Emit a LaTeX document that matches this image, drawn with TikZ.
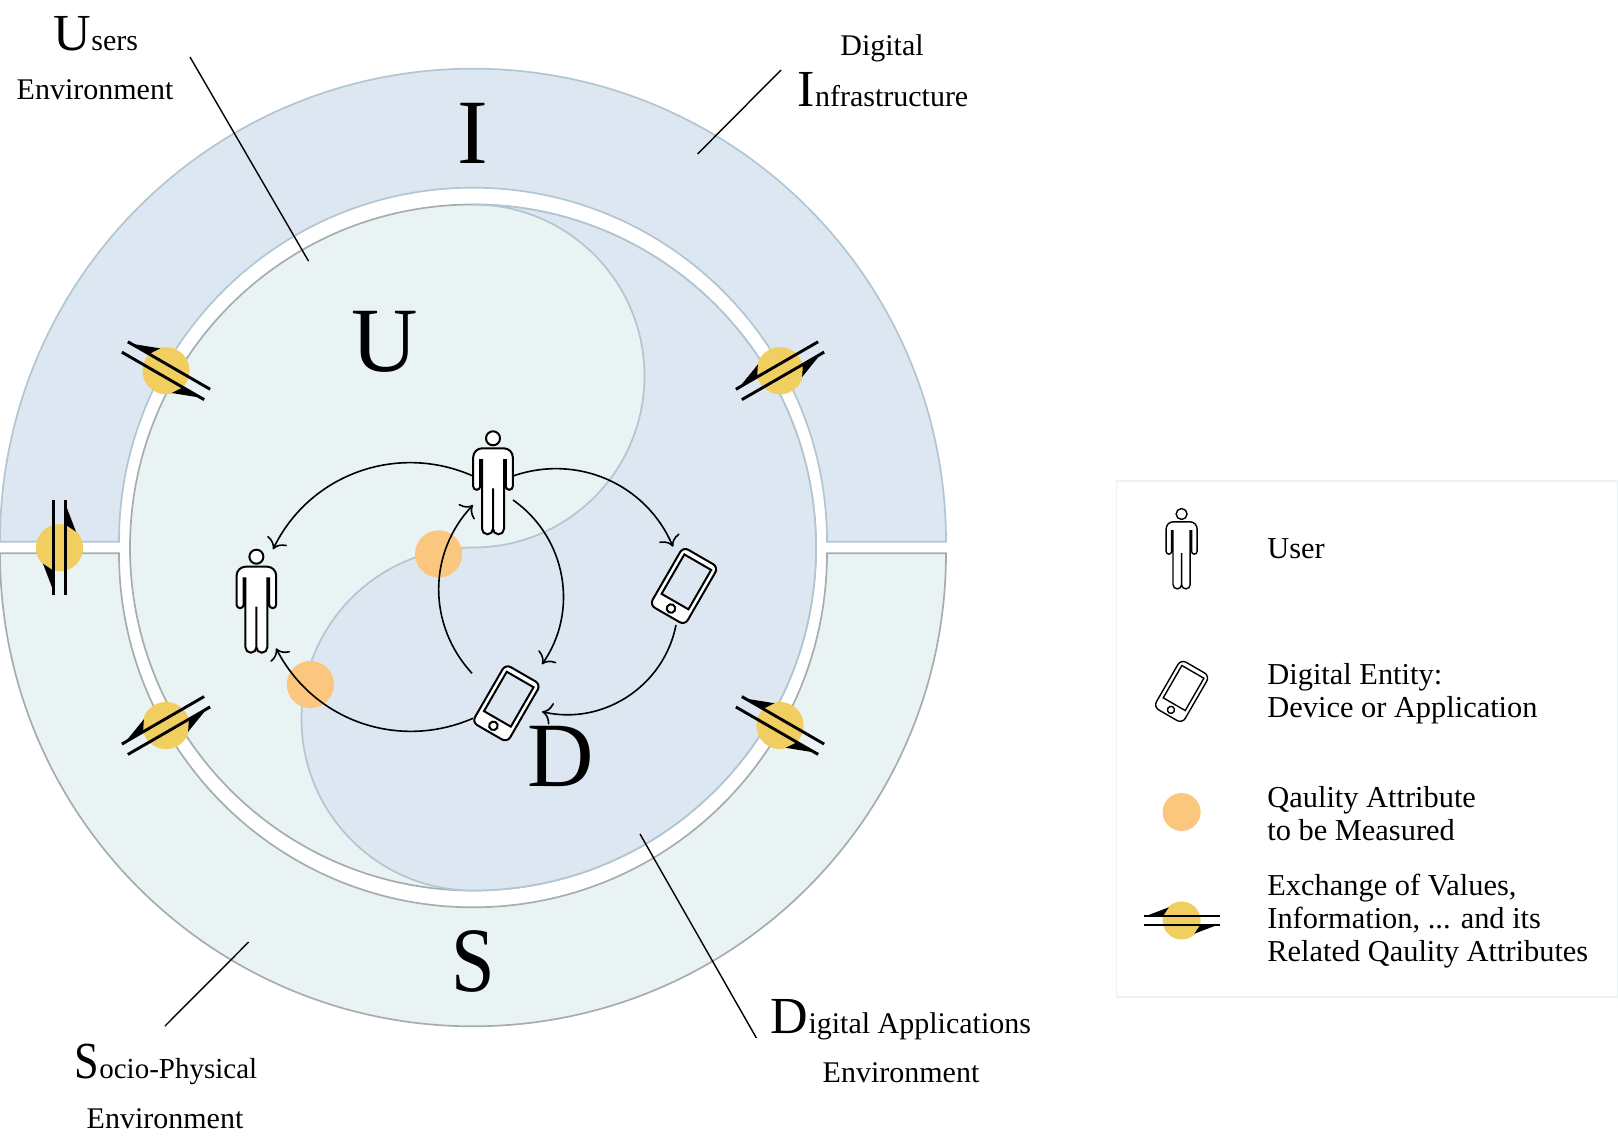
\documentclass[tikz,border=0pt]{standalone}
\usepackage{fontspec}
\setmainfont{Liberation Serif}
\usetikzlibrary{arrows.meta}
\definecolor{bandblue}{HTML}{DCE7F1}
\definecolor{bandgreen}{HTML}{E9F3F4}
\definecolor{lineblue}{HTML}{B2C6D2}
\definecolor{linegray}{HTML}{A6ADB0}
\definecolor{exchcol}{HTML}{F0CF60}
\definecolor{qualcol}{HTML}{FBC77F}
\newcommand{\bigini}[1]{{\fontsize{26}{26}\selectfont #1}}
\tikzset{
  blueshape/.style={fill=bandblue,draw=lineblue,line width=0.85pt},
  greenshape/.style={fill=bandgreen,draw=linegray,line width=0.85pt},
  qualdot/.style={circle,fill=qualcol,inner sep=0pt,minimum size=23.6pt},
  exchdot/.style={circle,fill=exchcol,inner sep=0pt,minimum size=23.6pt},
  flow/.style={line width=0.8pt,-{To[length=5pt,width=11pt]}},
  leader/.style={line width=0.7pt},
  biglet/.style={font=\fontsize{46}{46}\selectfont,anchor=base,inner sep=0pt},
  lbl/.style={font=\fontsize{15}{17}\selectfont,anchor=base,inner sep=0pt},
  legtext/.style={font=\fontsize{15.2}{16.5}\selectfont,align=left,anchor=west,inner sep=0pt},
  pics/usericon/.style={code={
    \filldraw [fill=white,pic actions] (0,0) circle [radius=7];
    \filldraw [fill=white,pic actions] (0,50) -- (0,90.5) arc [start angle=0,end angle=180,radius=5.5]
      -- (-11,21.7) -- (-12.8,21.7) -- (-12.8,48) arc [start angle=0,end angle=180,radius=3.5]
      -- (-19.8,19) arc [start angle=180,end angle=270,radius=9] -- (10.8,10)
      arc [start angle=-90,end angle=0,radius=9] -- (19.8,48)
      arc [start angle=0,end angle=180,radius=3.5] -- (12.8,21.7) -- (11,21.7) -- (11,90.5)
      arc [start angle=0,end angle=180,radius=5.5] -- cycle;
  }},
  pics/phoneicon/.style={code={
    \filldraw [fill=white,rounded corners=3,pic actions] (-20.3,-33.5) rectangle (20.3,33.5);
    \filldraw [fill=#1,pic actions] (-15.5,-27.5) rectangle (15.5,18);
    \draw [pic actions] (0,26) circle [radius=4.3];
  }},
  pics/exchange/.style={code={
    \draw [pic actions] (-47.5,6) -- (47.5,6);
    \draw [pic actions] (-47.5,-6) -- (47.5,-6);
    \fill (47.5,4.5) -- (16,16.5) -- (23,6) -- cycle;
    \fill (-47.5,-4.5) -- (-16,-16.5) -- (-23,-6) -- cycle;
  }}
}
\begin{document}
\begin{tikzpicture}[x=0.5pt,y=-0.5pt]
  \useasboundingbox (0,0) rectangle (1618,1140);
  % outer bands
  \filldraw [blueshape] (0,541.7) arc [start angle=180,end angle=360,radius=473] -- (827,541.7)
     arc [start angle=0,end angle=-180,radius=354] -- cycle;
  \filldraw [greenshape] (0,553.3) arc [start angle=180,end angle=0,radius=473] -- (827,553.3)
     arc [start angle=0,end angle=180,radius=354] -- cycle;
  % inner circle
  \filldraw [greenshape] (473,547.5) circle [radius=343];
  \filldraw [blueshape] (473,204.5) arc [start angle=-90,end angle=90,radius=343]
     arc [start angle=90,end angle=270,radius=171.5]
     arc [start angle=90,end angle=-90,radius=171.5];
  % dots
  \node [qualdot] (qualTop) at (438.6,554) {};
  \node [qualdot] (qualLeft) at (310.4,684.5) {};
  \node [exchdot] (exchW) at (59.5,547.7) {};
  \node [exchdot] (exchNW) at (166,370.7) {};
  \node [exchdot] (exchNE) at (780,370.7) {};
  \node [exchdot] (exchSW) at (166,725.5) {};
  \node [exchdot] (exchSE) at (780,725.5) {};
  \pic [line width=1.45pt,rotate=90] at (exchW) {exchange};
  \pic [line width=1.45pt,rotate=-30] at (exchNW) {exchange};
  \pic [line width=1.45pt,rotate=30] at (exchNE) {exchange};
  \pic [line width=1.45pt,rotate=30] at (exchSW) {exchange};
  \pic [line width=1.45pt,rotate=-30] at (exchSE) {exchange};
  % icons
  \pic [line width=1pt] at (493,438.3) {usericon};
  \pic [line width=1pt] at (256.4,556.7) {usericon};
  \pic [line width=1pt,rotate=-30] at (684,586) {phoneicon=bandblue};
  \pic [line width=1pt,rotate=-30] at (506.4,703.3) {phoneicon=bandblue};
  % arrows
  \coordinate (userTopW) at (473,476);
  \coordinate (userTopE) at (513,476);
  \coordinate (userTopSW) at (473,505);
  \coordinate (userTopSE) at (513,500);
  \coordinate (userLeftN) at (273,549.3);
  \coordinate (userLeftS) at (276,648.3);
  \coordinate (phoneRightN) at (673,546.7);
  \coordinate (phoneRightS) at (676,625);
  \coordinate (phoneLowNW) at (472,673.3);
  \coordinate (phoneLowNE) at (542,664.3);
  \coordinate (phoneLowE) at (542,711.7);
  \coordinate (phoneLowW) at (473,718.3);
  \draw [flow] (userTopW) to [bend right=44] (userLeftN);
  \draw [flow] (userTopE) to [bend left=43] (phoneRightN);
  \draw [flow] (phoneRightS) to [bend left=46] (phoneLowE);
  \draw [flow] (phoneLowW) to [bend left=43] (userLeftS);
  \draw [flow] (userTopSE) to [bend left=45] (phoneLowNE);
  \draw [flow] (phoneLowNW) to [bend left=43] (userTopSW);
  % big letters
  \node [biglet] (letI) at (473,163) {I};
  \node [biglet] (letU) at (385,371) {U};
  \node [biglet] (letD) at (561,786) {D};
  \node [biglet] (letS) at (473,991) {\scalebox{0.85}[1]{S}};
  % labels
  \node [lbl] (labUsers) at (96,50) {\bigini{U}sers};
  \node [lbl] (labUsersEnv) at (95,99) {Environment};
  \node [lbl] (labDigital) at (882,55) {Digital};
  \node [lbl] (labInfra) at (883,106) {\bigini{I}nfrastructure};
  \node [lbl,font=\fontsize{14.5}{17}\selectfont] (labSocio) at (166,1078) {\bigini{\scalebox{0.85}[1]{S}}ocio-Physical};
  \node [lbl] (labSocioEnv) at (165,1128) {Environment};
  \node [lbl] (labApps) at (901,1033) {\bigini{D}igital Applications};
  \node [lbl] (labAppsEnv) at (901,1082) {Environment};
  % leaders
  \coordinate (leadUa) at (190,57);
  \coordinate (leadUb) at (308.5,261);
  \coordinate (leadIa) at (781,70);
  \coordinate (leadIb) at (697.6,154);
  \coordinate (leadSa) at (165,1026);
  \coordinate (leadSb) at (248.7,942);
  \coordinate (leadDa) at (756.4,1038);
  \coordinate (leadDb) at (640,834);
  \draw [leader] (leadUa) -- (leadUb);
  \draw [leader] (leadIa) -- (leadIb);
  \draw [leader] (leadSa) -- (leadSb);
  \draw [leader] (leadDa) -- (leadDb);
  % legend
  \draw [draw=bandgreen,line width=0.7pt] (1116.6,481) rectangle (1617.5,997);
  \pic [line width=0.7pt,scale=0.78] at (1181.6,514) {usericon};
  \pic [line width=0.7pt,rotate=-30,scale=0.82] at (1181.6,691.4) {phoneicon=white};
  \node [qualdot,minimum size=19pt] (legQual) at (1181.6,812) {};
  \node [exchdot,minimum size=19pt] (legExch) at (1181.6,920.5) {};
  \pic [line width=1pt,scale=0.8] at (legExch) {exchange};
  \node [legtext] (legUser) at (1267,549) {User};
  \node [legtext] (legPhone) at (1267,693.5) {Digital Entity:\\Device or Application};
  \node [legtext] (legQualT) at (1267,814) {Qaulity Attribute\\to be Measured};
  \node [legtext] (legExchT) at (1267,921) {Exchange of Values,\\Information, ... and its\\Related Qaulity Attributes};
\end{tikzpicture}
\end{document}
